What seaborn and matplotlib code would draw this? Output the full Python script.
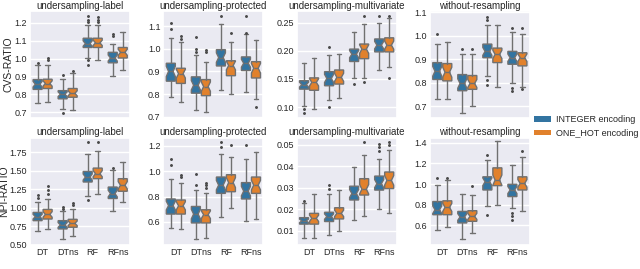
import numpy as np
import matplotlib
matplotlib.use("Agg")
import matplotlib.pyplot as plt
from matplotlib.patches import Patch
from matplotlib.ticker import MultipleLocator
import seaborn as sns

MODELS = ["DT", "DTns", "RF", "RFns"]
ENCODINGS = ["INTEGER encoding", "ONE_HOT encoding"]
STRATEGIES = ["undersampling-label", "undersampling-protected",
              "undersampling-multivariate", "without-resampling"]
METRICS = ["CVS-RATIO", "NPI-RATIO"]
N_RUNS = 30  # runs per box, used for the notch width

# each box: [whisker low, q1, median, q3, whisker high]
# order: DT-INT, DT-OH, DTns-INT, DTns-OH, RF-INT, RF-OH, RFns-INT, RFns-OH
cvs_label = [[0.753, 0.827, 0.856, 0.882, 0.965], [0.759, 0.832, 0.860, 0.884, 0.965],
             [0.718, 0.774, 0.800, 0.820, 0.887], [0.713, 0.783, 0.805, 0.832, 0.920],
             [1.001, 1.062, 1.084, 1.114, 1.187], [0.990, 1.062, 1.088, 1.114, 1.187],
             [0.900, 0.976, 1.003, 1.035, 1.084], [0.937, 1.003, 1.035, 1.062, 1.149]]
cvs_label_fliers = [[0.975], [0.990, 1.003], [0.910, 0.695], [0.930],
                    [1.205, 1.218, 1.237, 0.990, 0.965], [1.205, 1.218, 1.235],
                    [1.127, 1.136], []]

cvs_protected = [[0.786, 0.857, 0.900, 0.936, 1.047], [0.764, 0.847, 0.890, 0.914, 1.030],
                 [0.729, 0.804, 0.839, 0.876, 0.971], [0.721, 0.793, 0.833, 0.864, 0.940],
                 [0.820, 0.924, 0.961, 0.996, 1.107], [0.800, 0.881, 0.926, 0.947, 1.029],
                 [0.810, 0.904, 0.936, 0.964, 1.064], [0.779, 0.871, 0.914, 0.943, 1.040]]
cvs_protected_fliers = [[1.086, 1.114], [1.045, 1.055], [0.986, 1.000, 1.053], [0.986, 0.996],
                        [1.143], [1.071], [1.069, 1.143], [0.743]]

cvs_multivariate = [[0.103, 0.132, 0.140, 0.147, 0.179], [0.096, 0.130, 0.144, 0.152, 0.188],
                    [0.112, 0.138, 0.151, 0.163, 0.192], [0.116, 0.141, 0.153, 0.166, 0.195],
                    [0.151, 0.181, 0.194, 0.203, 0.233], [0.152, 0.186, 0.203, 0.212, 0.247],
                    [0.166, 0.198, 0.210, 0.221, 0.250], [0.172, 0.198, 0.210, 0.223, 0.259]]
cvs_multivariate_fliers = [[0.096, 0.090], [], [0.206, 0.100], [],
                           [0.142], [0.262, 0.145], [0.262], [0.262, 0.151]]

cvs_without = [[0.730, 0.814, 0.849, 0.886, 0.965], [0.730, 0.808, 0.845, 0.882, 0.976],
               [0.672, 0.766, 0.797, 0.835, 0.923], [0.700, 0.772, 0.797, 0.831, 0.923],
               [0.827, 0.907, 0.934, 0.965, 1.048], [0.780, 0.886, 0.921, 0.948, 1.048],
               [0.800, 0.879, 0.907, 0.934, 1.017], [0.783, 0.872, 0.907, 0.928, 1.006]]
cvs_without_fliers = [[1.010], [], [0.944], [0.944],
                      [1.066, 1.079, 0.810, 0.790], [], [1.034, 0.776, 0.766], [1.034, 0.772]]

npi_label = [[0.687, 0.826, 0.880, 0.937, 1.080], [0.714, 0.848, 0.910, 0.978, 1.116],
             [0.576, 0.714, 0.768, 0.826, 0.955], [0.620, 0.737, 0.790, 0.844, 0.982],
             [1.160, 1.348, 1.415, 1.490, 1.728], [1.192, 1.393, 1.460, 1.536, 1.772],
             [0.955, 1.125, 1.192, 1.280, 1.504], [1.080, 1.223, 1.304, 1.393, 1.616]]
npi_label_fliers = [[1.130, 1.170], [1.190, 1.236, 1.300], [0.990, 1.013], [1.036, 1.070],
                    [1.893, 1.103], [1.884], [1.536], []]

npi_protected = [[0.553, 0.662, 0.729, 0.781, 0.936], [0.541, 0.662, 0.727, 0.773, 0.908],
                 [0.463, 0.592, 0.662, 0.722, 0.851], [0.476, 0.592, 0.657, 0.696, 0.825],
                 [0.636, 0.825, 0.890, 0.954, 1.135], [0.709, 0.838, 0.910, 0.972, 1.110],
                 [0.605, 0.781, 0.843, 0.910, 1.097], [0.626, 0.825, 0.890, 0.954, 1.148]]
npi_protected_fliers = [[1.050, 1.097], [0.954, 0.972], [0.890, 0.980], [0.870, 0.890, 0.910],
                        [1.187, 1.230], [1.205], [1.205], []]

npi_multivariate = [[0.0066, 0.0131, 0.0146, 0.0161, 0.0227], [0.0066, 0.0131, 0.0158, 0.0181, 0.0269],
                    [0.0079, 0.0143, 0.0166, 0.0186, 0.0273], [0.0100, 0.0155, 0.0181, 0.0207, 0.0288],
                    [0.0151, 0.0243, 0.0273, 0.0307, 0.0396], [0.0169, 0.0266, 0.0293, 0.0342, 0.0450],
                    [0.0200, 0.0289, 0.0319, 0.0354, 0.0434], [0.0181, 0.0296, 0.0334, 0.0373, 0.0475]]
npi_multivariate_fliers = [[0.0238], [], [0.0296, 0.0311], [],
                           [], [0.0514], [0.0472, 0.0488, 0.0503], [0.0498, 0.0514]]

npi_without = [[0.549, 0.702, 0.750, 0.830, 0.990], [0.581, 0.702, 0.773, 0.837, 1.038],
               [0.462, 0.622, 0.680, 0.734, 0.901], [0.526, 0.638, 0.686, 0.741, 0.894],
               [0.782, 0.942, 1.022, 1.070, 1.230], [0.792, 0.984, 1.038, 1.157, 1.413],
               [0.766, 0.878, 0.942, 0.997, 1.182], [0.734, 0.942, 1.006, 1.070, 1.262]]
npi_without_fliers = [[1.061], [1.061], [], [0.981],
                      [1.285, 0.702], [], [0.718, 0.686, 0.654], [1.317]]

# (boxes, fliers, y-limits, y-tick step)
panels = [
    [(cvs_label, cvs_label_fliers, (0.667, 1.265), 0.1),
     (cvs_protected, cvs_protected_fliers, (0.695, 1.165), 0.1),
     (cvs_multivariate, cvs_multivariate_fliers, (0.081, 0.270), 0.05),
     (cvs_without, cvs_without_fliers, (0.650, 1.105), 0.1)],
    [(npi_label, npi_label_fliers, (0.50, 1.94), 0.25),
     (npi_protected, npi_protected_fliers, (0.42, 1.26), 0.2),
     (npi_multivariate, npi_multivariate_fliers, (0.0035, 0.053), 0.01),
     (npi_without, npi_without_fliers, (0.41, 1.445), 0.2)],
]

colors = ["#3274a1", "#e1812c"]
line = "#707070"

sns.set_theme(style="darkgrid")
plt.rcParams['font.family'] = ['Liberation Sans', 'DejaVu Sans']

fig, axes = plt.subplots(2, 4, figsize=(6.4, 2.69), dpi=100)
fig.subplots_adjust(left=0.047, right=0.828, top=0.958, bottom=0.09,
                    wspace=0.33, hspace=0.19)

for r in range(2):
    for c in range(4):
        ax = axes[r, c]
        stats, fliers, ylim, step = panels[r][c]
        bstats, pos = [], []
        for i, (s, fl) in enumerate(zip(stats, fliers)):
            lo, q1, med, q3, hi = s
            half = 1.57 * (q3 - q1) / np.sqrt(N_RUNS)
            bstats.append(dict(whislo=lo, q1=q1, med=med, q3=q3, whishi=hi,
                               fliers=fl, cilo=med - half, cihi=med + half))
            pos.append(i // 2 + (-0.2 if i % 2 == 0 else 0.2))
        art = ax.bxp(bstats, positions=pos, widths=0.36, shownotches=True,
                     patch_artist=True,
                     boxprops=dict(edgecolor=line, linewidth=1.0),
                     whiskerprops=dict(color=line, linewidth=1.0),
                     capprops=dict(color=line, linewidth=1.0),
                     medianprops=dict(color=line, linewidth=1.0),
                     flierprops=dict(marker="o", markersize=1.1,
                                     markerfacecolor="#4a4a4a",
                                     markeredgecolor="#4a4a4a"))
        for i, patch in enumerate(art["boxes"]):
            patch.set_facecolor(colors[i % 2])
        ax.set_xlim(-0.5, 3.5)
        ax.set_ylim(*ylim)
        ax.yaxis.set_major_locator(MultipleLocator(step))
        ax.set_xticks(range(len(MODELS)))
        ax.xaxis.grid(False)
        if r == 1:
            ax.set_xticklabels(MODELS)
        else:
            ax.set_xticklabels([])
        ax.tick_params(labelsize=6.5, pad=2, length=0)
        ax.set_title(STRATEGIES[c], fontsize=7, pad=2)
        if c == 0:
            ax.set_ylabel(METRICS[r], fontsize=7.5)
            ax.yaxis.set_label_coords(-0.17 if r == 0 else -0.205, 0.5)

handles = [Patch(facecolor=colors[k], edgecolor="none") for k in range(2)]
fig.legend(handles, ENCODINGS, loc="center left", bbox_to_anchor=(0.834, 0.53),
           frameon=False, fontsize=6.5, handlelength=1.9, handleheight=0.6,
           handletextpad=0.6, borderaxespad=0, borderpad=0)

fig.savefig("out.png", dpi=100)
